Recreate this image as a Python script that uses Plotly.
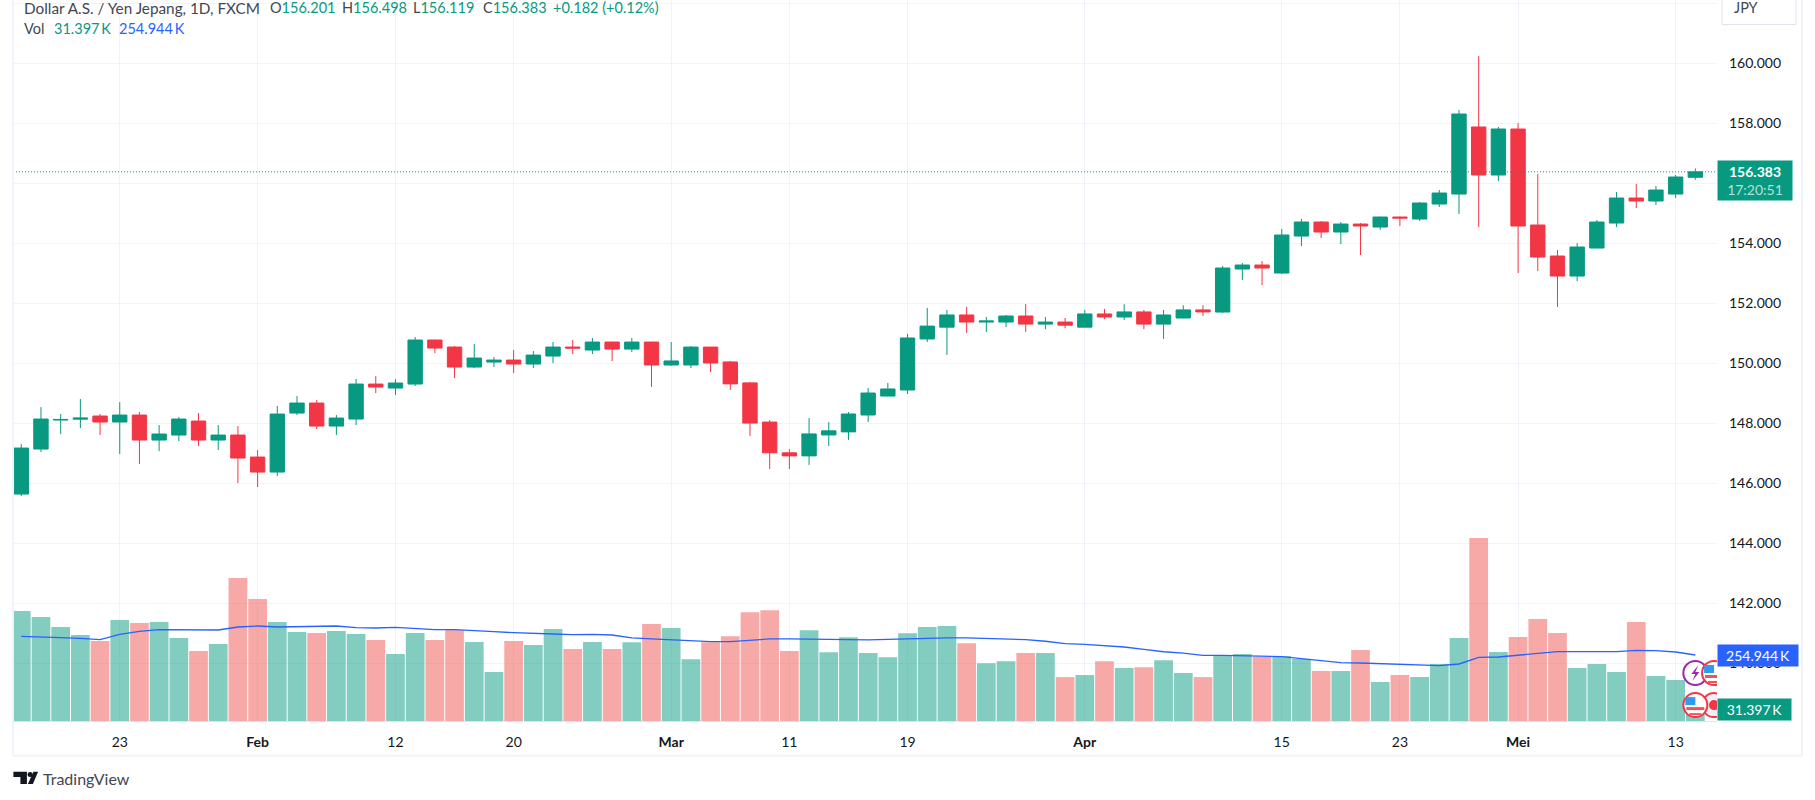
import pandas as pd
import plotly.graph_objects as go

UP = "#089981"
DOWN = "#f23645"
UP_VOL = "rgba(8,153,129,0.5)"
DOWN_VOL = "rgba(239,83,80,0.5)"
BLUE = "#2962ff"
GRID = "#f0f3fa"
FONT = "Lato"

dates = pd.bdate_range("2024-01-16", "2024-05-14")

opens = [145.644, 147.144, 148.11, 148.14, 148.244, 148.044, 148.277, 147.444, 147.61, 148.077, 147.444, 147.61,
         146.877, 146.377, 148.344, 148.677, 147.91, 148.144, 149.31, 149.177, 149.31, 150.777, 150.543, 149.877,
         150.043, 150.11, 149.977, 150.243, 150.543, 150.443, 150.71, 150.475, 150.71,
         149.946, 149.946, 150.542, 150.047, 149.349, 148.042, 147.018, 146.916, 147.614, 147.716, 148.279, 148.91,
         149.112, 150.813, 151.207, 151.612, 151.376, 151.376, 151.578, 151.308, 151.376,
         151.207, 151.646, 151.545, 151.714, 151.308, 151.511, 151.781, 151.71, 153.143, 153.277, 153.01, 154.243,
         154.71, 154.377, 154.643, 154.543, 154.877, 154.81, 155.31, 155.643, 157.877, 156.277,
         157.81, 154.61, 153.577, 152.91, 153.843, 154.677, 155.51, 155.41, 155.643, 156.201]
highs = [147.31, 148.544, 148.31, 148.81, 148.31, 148.71, 148.377, 147.944, 148.21, 148.344, 147.944, 147.91,
         147.11, 148.577, 148.91, 148.777, 148.277, 149.477, 149.577, 149.477, 150.877, 150.79, 150.577, 150.643,
         150.21, 150.443, 150.41, 150.71, 150.777, 150.843, 150.72, 150.846, 150.72,
         150.71, 150.576, 150.55, 150.08, 149.382, 148.11, 147.142, 148.178, 148.042, 148.38, 149.18, 149.349,
         150.982, 151.849, 151.781, 151.883, 151.545, 151.612, 151.973, 151.545, 151.511,
         151.781, 151.815, 151.973, 151.781, 151.781, 151.939, 151.939, 153.243, 153.343, 153.41, 154.477, 154.81,
         154.743, 154.71, 154.677, 154.887, 154.89, 155.377, 155.777, 158.443, 160.243, 157.877,
         158.01, 156.31, 153.777, 154.01, 154.777, 155.71, 155.977, 155.91, 156.277, 156.498]
lows = [145.577, 147.044, 147.64, 147.84, 147.61, 146.977, 146.644, 147.077, 147.41, 147.244, 147.11, 146.01,
        145.877, 146.244, 148.277, 147.81, 147.61, 147.944, 149.01, 148.944, 149.243, 150.343, 149.51, 149.843,
        149.877, 149.677, 149.843, 150.01, 150.31, 150.31, 150.077, 150.374, 149.214,
        149.912, 149.844, 149.709, 149.112, 147.581, 146.477, 146.477, 146.612, 147.243, 147.446, 148.042, 148.9,
        148.977, 150.711, 150.283, 151.015, 151.049, 151.207, 151.049, 151.139, 151.173,
        151.2, 151.477, 151.443, 151.139, 150.813, 151.5, 151.578, 151.677, 152.777, 152.61, 152.977, 153.91,
        154.177, 153.977, 153.61, 154.443, 154.577, 154.743, 155.21, 154.977, 154.543, 156.077,
        153.01, 153.077, 151.877, 152.743, 153.84, 154.543, 155.177, 155.277, 155.51, 156.119]
closes = [147.177, 148.144, 148.13, 148.177, 148.044, 148.277, 147.444, 147.644, 148.144, 147.444, 147.61, 146.844,
          146.377, 148.31, 148.677, 147.91, 148.177, 149.31, 149.21, 149.344, 150.777, 150.51, 149.877, 150.177,
          150.11, 149.977, 150.276, 150.543, 150.51, 150.71, 150.475, 150.71, 149.946,
          150.08, 150.542, 150.013, 149.315, 148.009, 147.018, 146.916, 147.648, 147.75, 148.313, 149.011, 149.146,
          150.846, 151.241, 151.612, 151.376, 151.41, 151.578, 151.308, 151.376, 151.274,
          151.646, 151.545, 151.714, 151.308, 151.612, 151.781, 151.714, 153.177, 153.277, 153.177, 154.277, 154.71,
          154.377, 154.643, 154.577, 154.877, 154.843, 155.343, 155.677, 158.31, 156.277, 157.81,
          154.577, 153.543, 152.91, 153.877, 154.71, 155.51, 155.41, 155.777, 156.21, 156.383]

volumes = [424.9, 401.7, 363, 332, 309, 390, 378.5, 382.4, 320.6, 270.4, 297.4, 552.3,
           471.2, 382.4, 343.8, 339.9, 347.6, 336, 312.9, 258.8, 339.9, 312.9, 351.5, 305.1,
           189.3, 309, 293.5, 355.3, 278.1, 305.1, 278.1, 304, 374.6,
           358.8, 238.8, 304, 327.5, 420.2, 428, 270, 351, 266, 323.6, 262.3, 246.6,
           339.2, 362.7, 366.6, 300, 223.1, 231, 262.3, 262.3, 169.6,
           177.5, 231, 204.9, 207.5, 234.9, 185.3, 169.6, 254.9, 258.8, 248.5, 251, 239.5,
           193.1, 193.1, 274.2, 150.6, 177.7, 170, 220.2, 320.6, 706.8, 266.5,
           324.4, 394, 339.9, 204.7, 220.2, 189.3, 382.4, 173.8, 158.4, 31.397]
vol_ma = [327, 323.2, 321.9, 319.3, 314.2, 334.8, 346.3, 352.8, 351.5, 350.2, 351.5, 363.1,
          366.9, 363.1, 364.4, 364.4, 366.9, 360.5, 359.2, 361.8, 356.6, 352.8, 352.8, 350.2,
          345.1, 341.2, 337.3, 336, 333.5, 334.8, 332.2, 321, 317.1,
          313.2, 309.3, 306.7, 306.7, 311.9, 317.1, 317.1, 317.1, 315.8, 314.5, 313.2, 315.8,
          317.1, 319.7, 321, 321, 318.4, 317.1, 314.5, 308, 298.8,
          296.2, 292.3, 285.8, 276.6, 267.5, 262.3, 253.2, 253.6, 252.4, 249.8, 248.5, 240.8,
          233, 225.3, 224, 221.5, 220.2, 216.3, 213.7, 220.2, 245.9, 247.2,
          253.6, 262.7, 267.8, 267.8, 269.1, 267.8, 273, 271.7, 266.5, 254.944]

tick_dates = ["2024-01-23", "2024-02-01", "2024-02-12", "2024-02-20", "2024-03-01", "2024-03-11",
              "2024-03-19", "2024-04-01", "2024-04-15", "2024-04-23", "2024-05-01", "2024-05-13"]
tick_labels = ["23", "<b>Feb</b>", "12", "20", "<b>Mar</b>", "11", "19", "<b>Apr</b>", "15", "23", "<b>Mei</b>", "13"]
price_ticks = [140, 142, 144, 146, 148, 150, 152, 154, 156, 158, 160, 162]
price_labels = ["140.000", "142.000", "144.000", "146.000", "148.000", "150.000",
                "152.000", "154.000", "", "158.000", "160.000", ""]

last_price = 156.383
last_vol = 31.397
last_ma = 254.944

xs = list(range(len(dates)))
tick_pos = [dates.get_loc(pd.Timestamp(d)) for d in tick_dates]
vol_colors = [UP_VOL if c >= o else DOWN_VOL for o, c in zip(opens, closes)]

# page geometry, in screenshot pixels
W, H = 1815, 800
L, R, T, B = 12.6, 1717, 0, 721


def px(x):
    return (x - L) / (R - L)


def py(y):
    return 1 - (y - T) / (B - T)


fig = go.Figure()
fig.add_bar(x=xs, y=volumes, yaxis="y2", width=0.95, marker=dict(color=vol_colors, line_width=0))
fig.add_scatter(x=xs, y=vol_ma, yaxis="y2", mode="lines", line=dict(color=BLUE, width=1.3))
fig.add_candlestick(
    x=xs, open=opens, high=highs, low=lows, close=closes, whiskerwidth=0,
    increasing=dict(line=dict(color=UP, width=1), fillcolor=UP),
    decreasing=dict(line=dict(color=DOWN, width=1), fillcolor=DOWN),
)


def label(x, y, text, color="#131722", size=14.5, anchor="left"):
    return dict(xref="paper", yref="paper", x=px(x), y=py(y), text=text, showarrow=False, xanchor=anchor,
                yanchor="middle", font=dict(family=FONT, size=size, color=color))


annotations = [
    label(21.5, 8, "Dollar A.S. / Yen Jepang, 1D, FXCM", "#434651", 15.3),
    label(267.5, 8, f"O<span style='color:{UP}'>156.201</span>", "#434651"),
    label(339.5, 8, f"H<span style='color:{UP}'>156.498</span>", "#434651"),
    label(410.5, 8, f"L<span style='color:{UP}'>156.119</span>", "#434651"),
    label(480.5, 8, f"C<span style='color:{UP}'>156.383</span>", "#434651"),
    label(551, 8, "+0.182 (+0.12%)", UP),
    label(21.5, 29, "Vol", "#434651"),
    label(51.6, 29, "31.397\u2009K", UP),
    label(116.4, 29, "254.944\u2009K", BLUE),
    label(1732, 8, "JPY", "#434651"),
    label(41, 778, "TradingView", "#434651", 16),
    dict(xref="paper", yref="y", x=1, y=last_price, yshift=-9, xanchor="left", yanchor="middle", showarrow=False,
         width=74, height=39, bgcolor=UP, borderpad=0,
         text="<b>156.383</b><br><span style='color:#b5e0d8'>17:20:51</span>",
         font=dict(family=FONT, size=14, color="white")),
    dict(xref="paper", yref="y2", x=1, y=last_ma, xanchor="left", yanchor="middle", showarrow=False,
         width=80, height=21, bgcolor=BLUE, borderpad=0, text="254.944\u2009K",
         font=dict(family=FONT, size=14, color="white")),
    dict(xref="paper", yref="y2", x=1, y=last_vol, yshift=3, xanchor="left", yanchor="middle", showarrow=False,
         width=73, height=21, bgcolor=UP, borderpad=0, text="31.397\u2009K",
         font=dict(family=FONT, size=14, color="white")),
]


def pixel_shape(x, y, **kw):
    return dict(xref="x", yref="y", xsizemode="pixel", ysizemode="pixel", xanchor=x, yanchor=y, layer="above", **kw)


def disc(x, y, r, fill, line=None, width=2):
    return pixel_shape(x, y, type="circle", x0=-r, x1=r, y0=-r, y1=r, fillcolor=fill,
                       line=dict(color=line, width=width if line else 0))


def box(x, y, x0, x1, y0, y1, fill):
    return pixel_shape(x, y, type="rect", x0=x0, x1=x1, y0=y0, y1=y1, fillcolor=fill, line_width=0)


def us_flag(x, y):
    return [
        disc(x, y, 12, "white", DOWN),
        box(x, y, -10, 0, 0, 8, "#2f9bf0"),
        box(x, y, -9, 9, -5, -2, "#f0525e"),
        box(x, y, -6, 6, -10, -8, "#f0525e"),
    ]


def paper_path(points, fill):
    d = "M " + " L ".join(f"{px(a):.5f},{py(b):.5f}" for a, b in points) + " Z"
    return dict(type="path", xref="paper", yref="paper", path=d, fillcolor=fill, line_width=0, layer="above")


def paper_line(x0, y0, x1, y1, color=GRID, width=2):
    return dict(type="line", xref="paper", yref="paper", x0=px(x0), y0=py(y0), x1=px(x1), y1=py(y1),
                line=dict(color=color, width=width), layer="above")


shapes = [
    dict(type="line", xref="paper", yref="y", x0=0, x1=1, y0=last_price, y1=last_price,
         line=dict(color=UP, width=1, dash="1px,2px"), layer="above"),
    paper_line(12.6, 0, 12.6, 755.7),
    paper_line(12.6, 755.7, 1802, 755.7),
    paper_line(1802, 0, 1802, 755.7),
    dict(type="rect", xref="paper", yref="paper", x0=px(1722), x1=px(1796), y0=py(-6), y1=py(24.5),
         line=dict(color="#e0e3eb", width=1), fillcolor="white", layer="below"),
    # event markers at the last bar
    disc(85, 139.68, 12, "white", "#9c27b0"),
    pixel_shape(85, 139.68, type="path", path="M 3,8 L -4,-1 L 0,-1 L -3,-8 L 4,1 L 0,1 Z",
                fillcolor="#9c27b0", line_width=0),
    *us_flag(85.95, 139.68),
    disc(85.95, 138.61, 12, "#eef0f5", DOWN),
    disc(85.95, 138.61, 5, DOWN),
    *us_flag(85, 138.61),
    # TradingView mark
    paper_path([(13, 771.7), (26.5, 771.7), (26.5, 784), (20, 784), (20, 777), (13, 777)], "#131722"),
    paper_path([(33, 771.7), (37.7, 771.7), (32.5, 784), (27.5, 784)], "#131722"),
    dict(type="circle", xref="paper", yref="paper", x0=px(27.2), x1=px(32.2), y0=py(777), y1=py(772),
         fillcolor="#131722", line_width=0, layer="above"),
]

fig.update_layout(
    width=W, height=H,
    margin=dict(l=L, r=W - R, t=T, b=H - B, pad=0, autoexpand=False),
    paper_bgcolor="white", plot_bgcolor="white", showlegend=False, boxgap=0.27, boxgroupgap=0,
    font=dict(family=FONT, size=14, color="#131722"),
    annotations=annotations, shapes=shapes,
    xaxis=dict(range=[-0.42, 86.1], tickvals=tick_pos, ticktext=tick_labels, rangeslider_visible=False,
               showgrid=True, gridcolor=GRID, gridwidth=1, ticks="", showline=True, linecolor="#e0e3eb",
               linewidth=1, zeroline=False, ticklabelstandoff=8),
    yaxis=dict(range=[138.08, 162.11], side="right", tickvals=price_ticks, ticktext=price_labels,
               showgrid=True, gridcolor=GRID, gridwidth=1, ticks="", zeroline=False, ticklabelstandoff=11),
    yaxis2=dict(range=[0, 2785], overlaying="y", side="left", showgrid=False, showticklabels=False,
                zeroline=False, ticks=""),
)

# the page keeps the browser's default body margin otherwise
fig.write_html("out.html", config=dict(displayModeBar=False), post_script="document.body.style.margin='0';")
